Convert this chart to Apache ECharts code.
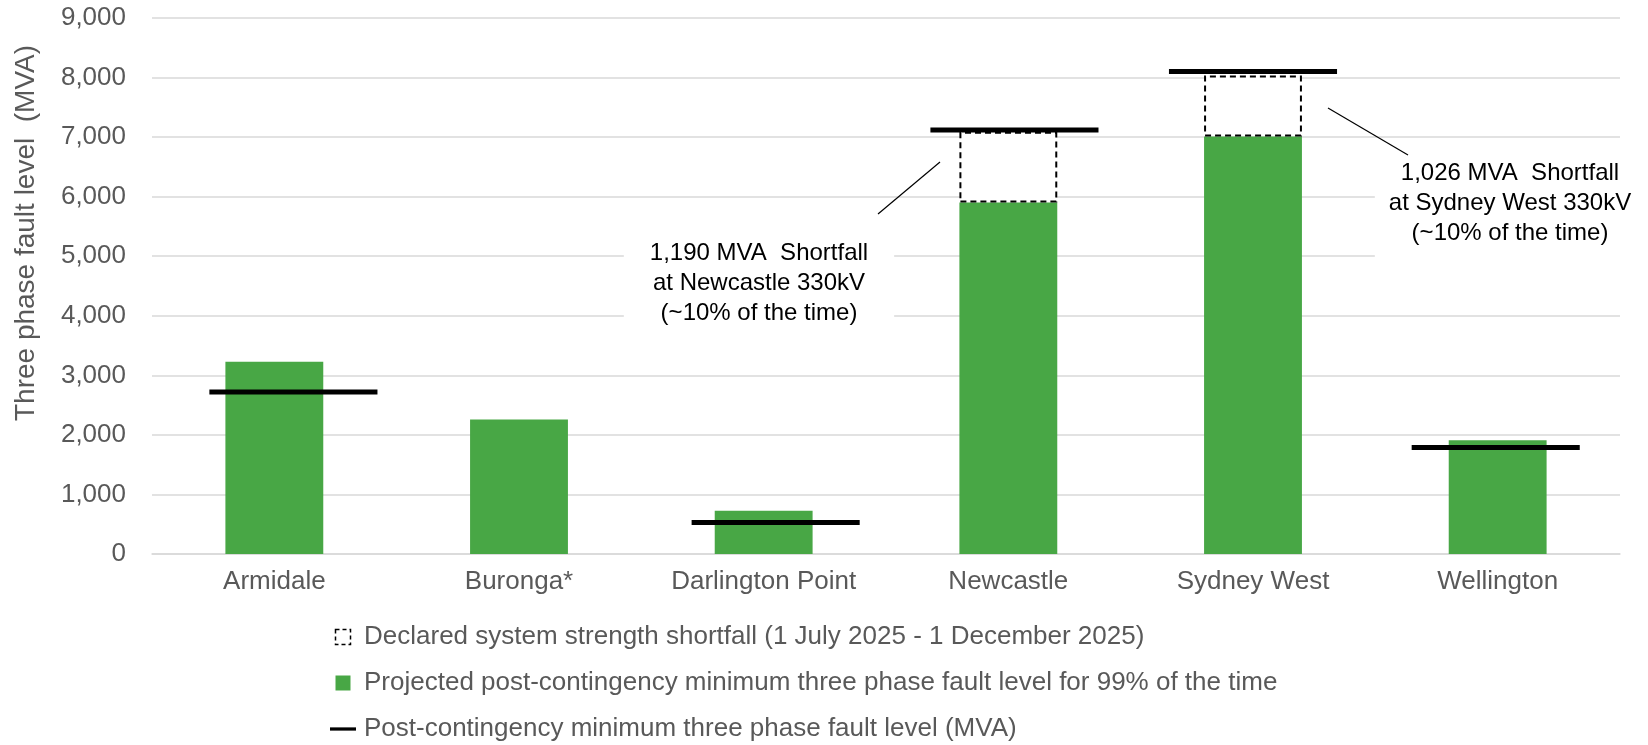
<!DOCTYPE html>
<html>
<head>
<meta charset="utf-8">
<script src="https://cdn.jsdelivr.net/npm/echarts@6/dist/echarts.min.js"></script>
<style>
  html, body { margin: 0; padding: 0; background: #fff; }
  #chart { width: 1648px; height: 745px; }
</style>
</head>
<body>
<div id="chart"></div>
<script>
// ── data ──────────────────────────────
const categories = ["Armidale", "Buronga*", "Darlington Point", "Newcastle", "Sydney West", "Wellington"];
const projected = [3230, 2260, 725, 5900, 7010, 1910];        // green bars
const shortfall = [null, null, null, 1190, 1026, null];       // dashed boxes stacked on top
const postContingency = [2720, null, 530, 7120, 8100, 1790];  // black level bars
const yTicks = [0, 9000, 1000]; // min, max, interval

// the black level bars in the original sit slightly off-centre (fraction of a category band)
const levelNudge = [0.078, 0, 0.049, 0.025, 0, -0.008];

const NAME_SHORT = "Declared system strength shortfall (1 July 2025 - 1 December 2025)";
const NAME_PROJ = "Projected post-contingency minimum three phase fault level for 99% of the time";
const NAME_POST = "Post-contingency minimum three phase fault level (MVA)";

const FONT = "'Liberation Sans', Arial, sans-serif";
const GREY = "#595959";
const GREEN = "#48A745";

const chart = echarts.init(document.getElementById("chart"));

chart.setOption({
  backgroundColor: "#fff",
  animation: false,
  textStyle: { fontFamily: FONT },
  grid: { left: 152, right: 28, top: 18, bottom: 191 },
  xAxis: {
    type: "category",
    data: categories,
    axisTick: { show: false },
    axisLine: { lineStyle: { color: "#D9D9D9", width: 1.5 } },
    axisLabel: { color: GREY, fontSize: 26, fontFamily: FONT, margin: 15 },
  },
  yAxis: {
    type: "value",
    min: yTicks[0], max: yTicks[1], interval: yTicks[2],
    axisLine: { show: false },
    axisTick: { show: false },
    splitLine: { lineStyle: { color: "#D9D9D9", width: 1.5 } },
    axisLabel: {
      color: GREY, fontSize: 26, fontFamily: FONT, margin: 26,
      formatter: (v) => v.toLocaleString("en-US"),
    },
  },
  legend: {
    orient: "vertical",
    left: 330,
    top: 622,
    height: 123,
    padding: 0,
    itemWidth: 26,
    itemHeight: 15,
    itemGap: 16,
    textStyle: { color: GREY, fontSize: 26, fontFamily: FONT, lineHeight: 30, padding: [0, 0, 0, 3] },
    data: [
      { name: NAME_SHORT, icon: "path://M0,0H10V10H0Z",
        itemStyle: { color: "#fff", borderColor: "#000", borderWidth: 1.5, borderType: [4, 3] } },
      { name: NAME_PROJ, icon: "path://M0,0H10V10H0Z", itemStyle: { color: GREEN } },
      { name: NAME_POST, icon: "path://M0,0H24V3H0Z", itemStyle: { color: "#000" } },
    ],
  },
  series: [
    {
      name: NAME_PROJ,
      type: "bar",
      stack: "a",
      barWidth: "40%",
      data: projected,
      itemStyle: { color: GREEN },
    },
    {
      name: NAME_SHORT,
      type: "bar",
      stack: "a",
      data: shortfall,
      itemStyle: { color: "#fff", borderColor: "#000", borderWidth: 2, borderType: [6, 4] },
    },
    {
      name: NAME_POST,
      type: "custom",
      data: postContingency.map((v, i) => [i, v]),
      encode: { x: 0, y: 1 },
      z: 5,
      renderItem: (params, api) => {
        const v = api.value(1);
        if (v == null || isNaN(v)) return null;
        const idx = api.value(0);
        const pt = api.coord([idx, v]);
        const band = api.size([1, 0])[0];
        const w = band * 0.687;
        const cx = pt[0] + band * (levelNudge[idx] || 0);
        return {
          type: "rect",
          shape: { x: cx - w / 2, y: pt[1] - 2.5, width: w, height: 5 },
          style: { fill: "#000" },
        };
      },
    },
  ],
  graphic: [
    // y axis title
    {
      type: "text", x: 26, y: 233, rotation: Math.PI / 2, z: 100,
      style: { text: "Three phase fault level  (MVA)", font: `28px ${FONT}`, fill: GREY,
               textAlign: "center", textVerticalAlign: "middle" },
    },
    // Newcastle note (white box hides the gridlines behind it)
    {
      type: "text", x: 759, y: 283, z: 100,
      style: { text: "1,190 MVA  Shortfall\nat Newcastle 330kV\n(~10% of the time)",
               font: `24px ${FONT}`, fill: "#000", textAlign: "center", textVerticalAlign: "middle",
               lineHeight: 30, backgroundColor: "#fff", padding: [10, 26, 10, 26] },
    },
    { type: "line", z: 100, shape: { x1: 878, y1: 214, x2: 940, y2: 162 }, style: { stroke: "#000", lineWidth: 1.2 } },
    // Sydney West note
    {
      type: "text", x: 1510, y: 203, z: 100,
      style: { text: "1,026 MVA  Shortfall\nat Sydney West 330kV\n(~10% of the time)",
               font: `24px ${FONT}`, fill: "#000", textAlign: "center", textVerticalAlign: "middle",
               lineHeight: 30, backgroundColor: "#fff", padding: [12, 14, 14, 14] },
    },
    { type: "line", z: 100, shape: { x1: 1328, y1: 108, x2: 1408, y2: 155 }, style: { stroke: "#000", lineWidth: 1.2 } },
  ],
});
</script>
</body>
</html>
